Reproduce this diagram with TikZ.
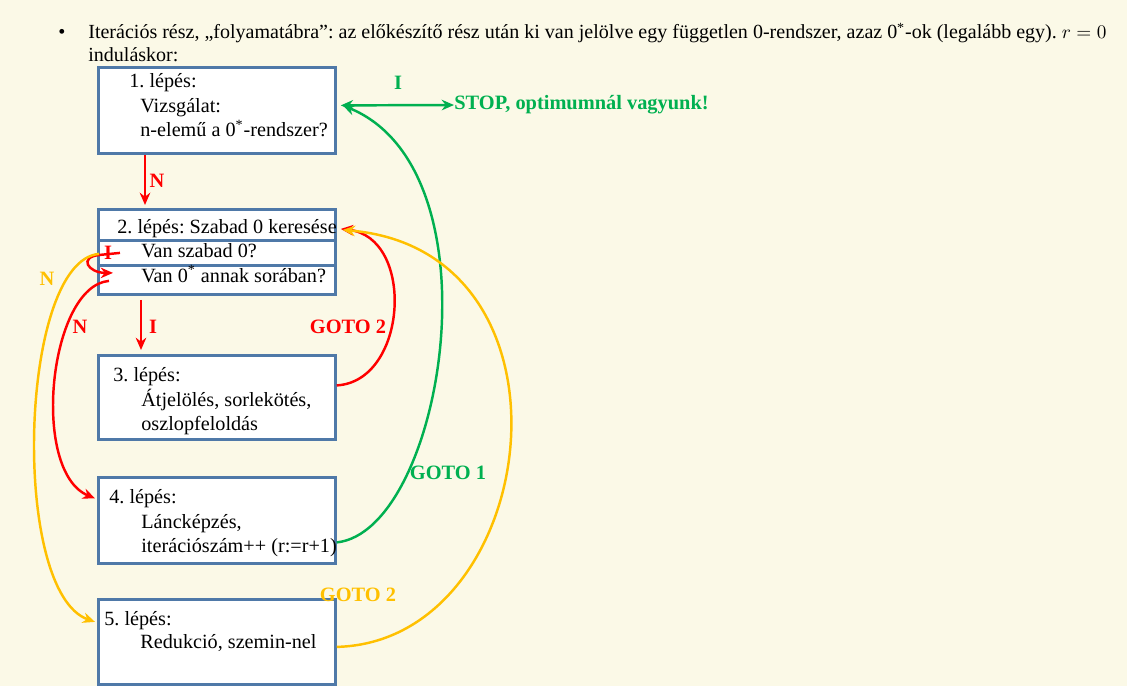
\documentclass[tikz,border=0pt]{standalone}
\usepackage{fontspec}
\setmainfont{Liberation Serif}
\usetikzlibrary{arrows.meta,calc}
\frenchspacing

\definecolor{lapbg}{RGB}{251,249,231}
\definecolor{keret}{RGB}{79,121,168}
\definecolor{piros}{RGB}{255,0,0}
\definecolor{zold}{RGB}{0,176,80}
\definecolor{sarga}{RGB}{255,192,0}

\begin{document}
\begin{tikzpicture}[x = 0.02cm, y = -0.02cm, >={Stealth[length=7pt, width=6pt]},
  box/.style = {draw = keret, line width = 1.6pt, fill = white, anchor = north west, minimum width = 4.74cm, inner sep = 0},
  txt/.style = {anchor = base west, inner sep = 0, font = \fontsize{11.5}{14}\selectfont},
  lbl/.style = {inner sep = 0, font = \fontsize{11.6}{14}\selectfont\bfseries},
  conn/.style = {line width = 1.4pt}]

	\fill[lapbg] (0,0) rectangle (1127,686);
	\useasboundingbox (0,0) rectangle (1127,686);

	% fejlec
	\node[txt] (bul)  at ( 58, 39) {\textbullet};
	\node[txt, font = \fontsize{11.4}{14}\selectfont] (fej1) at ( 88, 39) {Iterációs rész, „folyamatábra”: az előkészítő rész után ki van jelölve egy független 0-rendszer, azaz 0\textsuperscript{*}-ok (legalább egy). $r=0$};
	\node[txt, font = \fontsize{11.4}{14}\selectfont] (fej2) at ( 88, 62) {induláskor:};

	% dobozok
	\node[box, minimum height = 1.72cm] (b1)  at (97,  66) {};
	\node[box, minimum height = 0.62cm] (b2a) at (97, 208) {};
	\node[box, minimum height = 0.50cm] (b2b) at (97, 239) {};
	\node[box, minimum height = 0.58cm] (b2c) at (97, 264) {};
	\node[box, minimum height = 1.68cm] (b3)  at (97, 354) {};
	\node[box, minimum height = 1.72cm] (b4)  at (97, 476) {};
	\node[box, minimum height = 1.70cm] (b5)  at (97, 598) {};

	\node[txt] (t1a) at (129,  88) {1. lépés:};
	\node[txt] (t1b) at (140, 113) {Vizsgálat:};
	\node[txt] (t1c) at (140, 137) {n-elemű a 0\textsuperscript{*}-rendszer?};
	\node[txt] (t2a) at (117, 234) {2. lépés: Szabad 0 keresése};
	\node[txt] (t2b) at (141, 257) {Van szabad 0?};
	\node[txt] (t2c) at (141, 282) {Van 0\textsuperscript{*} annak sorában?};
	\node[txt] (t3a) at (113, 381) {3. lépés:};
	\node[txt] (t3b) at (141, 406) {Átjelölés, sorlekötés,};
	\node[txt] (t3c) at (141, 430) {oszlopfeloldás};
	\node[txt] (t4a) at (109, 503) {4. lépés:};
	\node[txt] (t4b) at (141, 528) {Láncképzés,};
	\node[txt] (t4c) at (141, 552) {iterációszám++ (r:=r+1)};
	\node[txt] (t5a) at (104, 625) {5. lépés:};
	\node[txt] (t5b) at (140, 648) {Redukció, szemin-nel};

	\node[lbl, zold, anchor = west] (stop) at (454, 105) {STOP, optimumnál vagyunk!};

	% cimkek
	\node[lbl, piros] (n1)   at (157, 181) {N};
	\node[lbl, zold]  (i1)   at (398,  83) {I};
	\node[lbl, piros] (n2)   at ( 80, 327) {N};
	\node[lbl, piros] (i2)   at (153, 327) {I};
	\node[lbl, sarga] (n3)   at ( 47, 279) {N};
	\node[lbl, piros] (go2p) at (348, 327) {GOTO 2};
	\node[lbl, zold]  (go1)  at (448, 473) {GOTO 1};
	\node[lbl, sarga] (go2s) at (358, 595) {GOTO 2};
	\node[lbl, piros] (i3)   at (108, 253) {I};

	% nyilak
	\draw[conn, piros, ->] ($(b1.south west)+(48,0)$) -- ($(b2a.north west)+(48,-3)$);
	\draw[conn, zold, <->] ($(b1.east)+(4,-5)$) -- (stop.west);
	\draw[conn, zold, ->] ($(b4.east)+(0,22)$) .. controls +(106,-11) and +(160,66) .. ($(b1.east)+(6,-5)$);
	\draw[conn, piros, ->] ($(b3.east)+(0,-12)$) .. controls +(71,-4) and +(75,8) .. ($(b2a.east)+(4,4)$);
	\draw[conn, sarga, ->] ($(b5.east)+(0,5)$) .. controls +(205,-5) and +(248,21) .. ($(b2a.east)+(6,5)$);
	\draw[conn, piros, ->] ($(b2b.west)+(23,0)$) -- ($(b2b.west)+(3,2)$) .. controls +(-22,2) and +(-25,0) .. ($(b2c.west)+(16,-7)$);
	\draw[conn, piros, ->] ($(b2c.west)+(12,1)$) .. controls +(-60,5) and +(-65,-27) .. ($(b4.west)+(-2,-22)$);
	\draw[conn, sarga, ->] ($(b2b.west)+(2,1)$) .. controls +(-80,7) and +(-85,-30) .. ($(b5.west)+(-2,-20)$);
	\draw[conn, piros, ->] ($(b2c.south west)+(44,4)$) -- ($(b3.north west)+(44,-4)$);

\end{tikzpicture}
\end{document}
